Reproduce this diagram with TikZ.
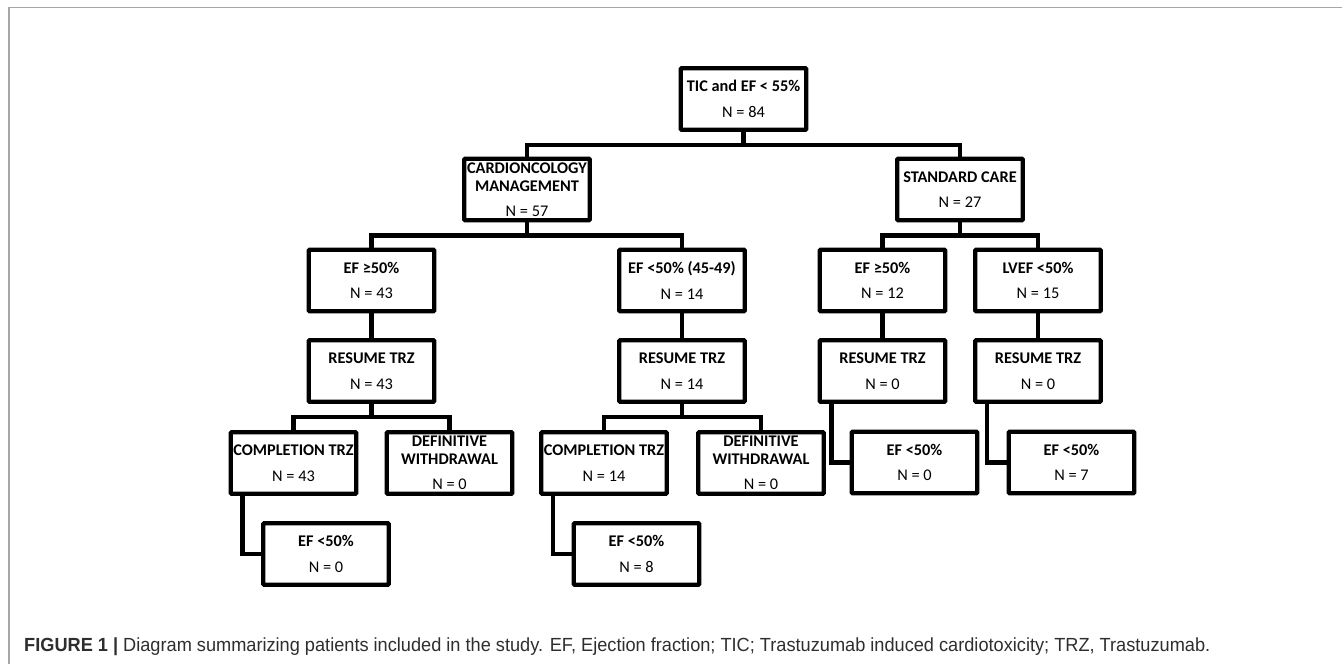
\documentclass[tikz,border=0pt]{standalone}
\usepackage{fontspec}
\setmainfont{Carlito}
\newfontfamily\capfont{Liberation Sans}
\begin{document}
\begin{tikzpicture}[x=1pt,y=-1pt,
  box/.style={draw=black,line width=4.4pt,rounded corners=1pt,minimum width=125.5pt,minimum height=61.5pt,inner sep=0pt,align=center,font=\fontsize{16.3}{25.5}\selectfont},
  conn/.style={line width=4.4pt,line cap=rect},
  frame/.style={draw=black!35,line width=1.3pt}]
\useasboundingbox (0,0) rectangle (1342,664);
\draw[frame] (1342,7.5) -- (9,7.5) -- (9,664);
% level 0
\node[box] (top) at (743.5,99) {\textbf{TIC and EF < 55\%}\\N = 84};
% level 1
\node[box] (cardio) at (527,189.5) {\textbf{CARDIONCOLOGY}\\[-7.5pt]\textbf{MANAGEMENT}\\N = 57};
\node[box] (std) at (960,189.5) {\textbf{STANDARD CARE}\\N = 27};
% level 2
\node[box] (efa) at (371.5,280.5) {\textbf{EF ≥50\%}\\N = 43};
\node[box] (efb) at (682,280.5) {\textbf{EF <50\% (45-49}\textbf{)}\\N = 14};
\node[box] (efc) at (882.5,280.5) {\textbf{EF ≥50\%}\\N = 12};
\node[box] (efd) at (1038,280.5) {\textbf{LVEF <50\%}\\N = 15};
% level 3
\node[box] (resa) at (371.5,371) {\textbf{RESUME TRZ}\\N = 43};
\node[box] (resb) at (682,371) {\textbf{RESUME TRZ}\\N = 14};
\node[box] (resc) at (882.5,371) {\textbf{RESUME TRZ}\\N = 0};
\node[box] (resd) at (1038,371) {\textbf{RESUME TRZ}\\N = 0};
% level 4
\node[box] (compa) at (293.5,463) {\textbf{COMPLETION TRZ}\\N = 43};
\node[box] (defa) at (449.5,463) {\textbf{DEFINITIVE}\\[-7.5pt]\textbf{WITHDRAWAL}\\N = 0};
\node[box] (compb) at (604,463) {\textbf{COMPLETION TRZ}\\N = 14};
\node[box] (defb) at (761,463) {\textbf{DEFINITIVE}\\[-7.5pt]\textbf{WITHDRAWAL}\\N = 0};
\node[box] (lowc) at (914.5,462.5) {\textbf{EF <50\%}\\N = 0};
\node[box] (lowd) at (1071.5,462.5) {\textbf{EF <50\%}\\N = 7};
% level 5
\node[box] (lowa) at (326,554) {\textbf{EF <50\%}\\N = 0};
\node[box] (lowb) at (636.5,554) {\textbf{EF <50\%}\\N = 8};
% connectors
\draw[conn] (top.south) -- ++(0,13) -| (cardio.north);
\draw[conn] (top.south) -- ++(0,13) -| (std.north);
\draw[conn] (cardio.south) -- ++(0,13) -| (efa.north);
\draw[conn] (cardio.south) -- ++(0,13) -| (efb.north);
\draw[conn] (std.south) -- ++(0,13) -| (efc.north);
\draw[conn] (std.south) -- ++(0,13) -| (efd.north);
\draw[conn] (efa.south) -- (resa.north);
\draw[conn] (efb.south) -- (resb.north);
\draw[conn] (efc.south) -- (resc.north);
\draw[conn] (efd.south) -- (resd.north);
\draw[conn] (resa.south) -- ++(0,13) -| (compa.north);
\draw[conn] (resa.south) -- ++(0,13) -| (defa.north);
\draw[conn] (resb.south) -- ++(0,13) -| (compb.north);
\draw[conn] (resb.south) -- ++(0,13) -| (defb.north);
\draw[conn] ([xshift=14pt]compa.south west) |- (lowa.west);
\draw[conn] ([xshift=14pt]compb.south west) |- (lowb.west);
\draw[conn] ([xshift=14pt]resc.south west) |- (lowc.west);
\draw[conn] ([xshift=14pt]resd.south west) |- (lowd.west);
% caption
\node[anchor=west,inner sep=0pt,text=black!82,font=\capfont\fontsize{19}{22}\selectfont] (cap) at (24,647)
  {\resizebox{1186pt}{\height}{\textbf{FIGURE 1} \textbf{|} Diagram summarizing patients included in the study. EF, Ejection fraction; TIC; Trastuzumab induced cardiotoxicity; TRZ, Trastuzumab.}};
\end{tikzpicture}
\end{document}
